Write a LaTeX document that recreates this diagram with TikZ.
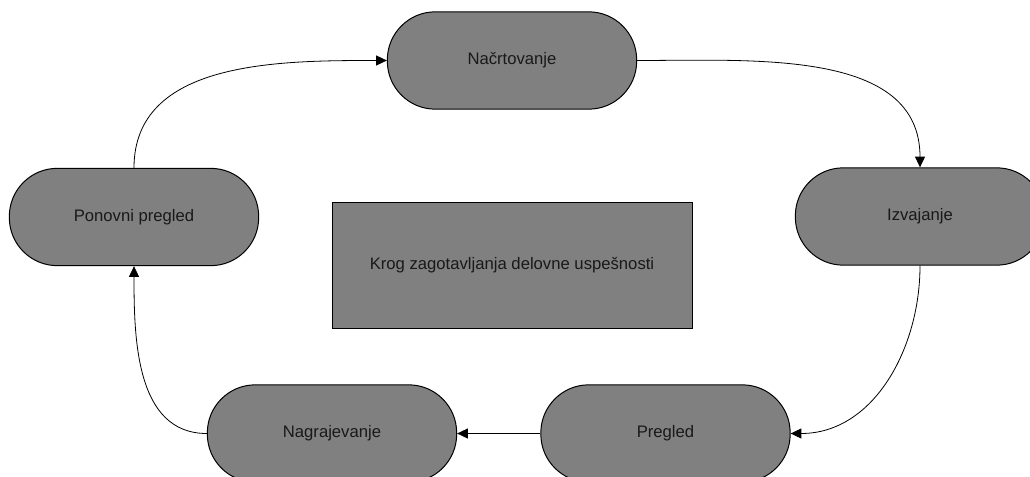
\documentclass[tikz,border=0pt]{standalone}
\usepackage{fontspec}
\setmainfont{Liberation Sans}
\usetikzlibrary{arrows.meta}
\begin{document}
\begin{tikzpicture}[x=0.75pt,y=-0.75pt,
  stage/.style={draw=black,line width=0.75pt,fill={rgb,255:red,128;green,128;blue,128},
    rectangle,rounded corners=36pt,minimum width=187pt,minimum height=73pt,inner sep=0pt,
    font=\fontsize{12.5}{15}\selectfont,text=black!90},
  center box/.style={draw=black,line width=0.75pt,fill={rgb,255:red,128;green,128;blue,128},
    rectangle,minimum width=270pt,minimum height=94pt,inner sep=0pt,
    font=\fontsize{12.5}{15}\selectfont,text=black!90},
  link/.style={draw=black,line width=0.6pt,-{Triangle[length=8pt,width=7.5pt]}}]
\useasboundingbox (0,0) rectangle (1030,477);
\clip (0,0) rectangle (1030,477);
\node[stage] (n) at (512,60.5) {Načrtovanje};
\node[stage] (i) at (920,216.5) {Izvajanje};
\node[stage] (p) at (665.5,433.5) {Pregled};
\node[stage] (ng) at (332,433.5) {Nagrajevanje};
\node[stage] (pp) at (134,217) {Ponovni pregled};
\node[center box] (k) at (512,265.5) {Krog zagotavljanja delovne uspešnosti};
\draw[link] (pp.north) to[out=90,in=180] (n.west);
\draw[link] (n.east) to[out=0,in=90] (i.north);
\draw[link] (i.south) to[out=-90,in=0] (p.east);
\draw[link] (p.west) -- (ng.east);
\draw[link] (ng.west) to[out=180,in=-90] (pp.south);
\end{tikzpicture}
\end{document}
